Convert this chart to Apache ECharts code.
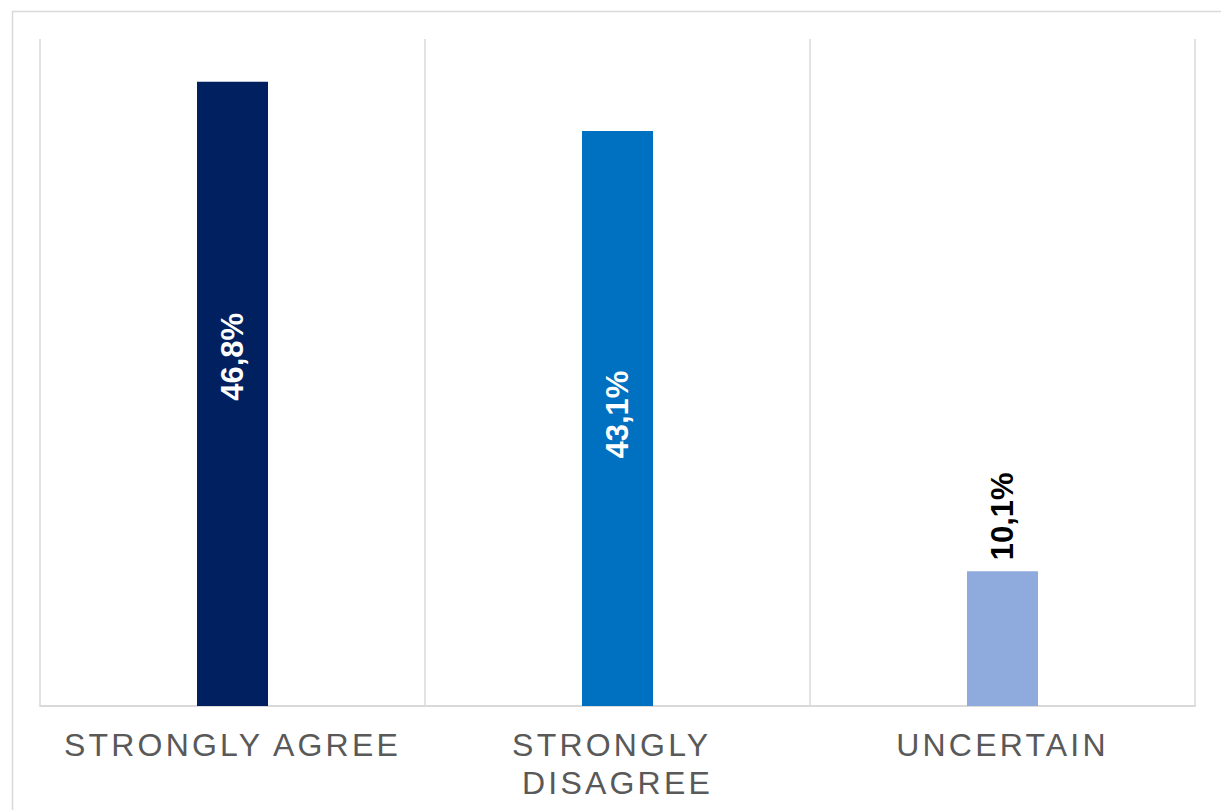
<!DOCTYPE html>
<html>
<head>
<meta charset="utf-8">
<script src="https://cdn.jsdelivr.net/npm/echarts@6/dist/echarts.min.js"></script>
<style>
  html, body { margin: 0; padding: 0; background: #ffffff; }
  #chart { width: 1221px; height: 810px; }
  /* spaced-out category captions; bold value labels keep normal spacing */
  #chart text { letter-spacing: 3.2px; }
  #chart text[style*="bold"] { letter-spacing: 0; }
</style>
</head>
<body>
<div id="chart"></div>
<script>
// Survey answer shares (percent)
const categories = ['STRONGLY AGREE', 'STRONGLY DISAGREE', 'UNCERTAIN'];
const shares = [46.8, 43.1, 10.1];
const barColors = ['#002060', '#0070C0', '#8FAADC'];

const fmt = v => v.toFixed(1).replace('.', ',') + '%';

const valueFont = {
  fontFamily: 'Liberation Sans, Arial, sans-serif',
  fontWeight: 'bold',
  fontSize: 31,
  formatter: p => fmt(p.value)
};

const barData = shares.map((v, i) => {
  const item = { value: v, itemStyle: { color: barColors[i] } };
  if (i < 2) {
    // offset is in the rotated text frame: +x moves the label up the bar
    item.label = Object.assign({
      show: true, position: 'inside', rotate: 90,
      align: 'center', verticalAlign: 'middle',
      color: '#ffffff', offset: i === 0 ? [37, 0] : [4, 0]
    }, valueFont);
  } else {
    item.label = Object.assign({
      show: true, position: 'top', rotate: 90, distance: 11,
      align: 'left', verticalAlign: 'middle', color: '#000000'
    }, valueFont);
  }
  return item;
});

const chart = echarts.init(document.getElementById('chart'), null, { renderer: 'svg' });
chart.setOption({
  animation: false,
  backgroundColor: '#ffffff',
  graphic: [{
    type: 'rect', left: 10, top: 9, silent: true,
    shape: { width: 1400, height: 1000 },
    style: { fill: 'none', stroke: '#d9d9d9', lineWidth: 1.5 }
  }],
  grid: { left: 40, right: 26, top: 39, bottom: 104, containLabel: false },
  xAxis: {
    type: 'category',
    data: categories,
    boundaryGap: true,
    axisLine: { show: true, lineStyle: { color: '#d9d9d9', width: 2 } },
    axisTick: { show: false },
    splitLine: { show: true, interval: 0, lineStyle: { color: '#d9d9d9', width: 1.5 } },
    axisLabel: {
      interval: 0, margin: 20,
      color: '#595959',
      fontFamily: 'Liberation Sans, Arial, sans-serif',
      fontSize: 32, lineHeight: 38,
      width: 340, overflow: 'break'
    }
  },
  yAxis: {
    type: 'value', min: 0, max: 50,
    show: false, splitLine: { show: false }
  },
  series: [{
    type: 'bar',
    data: barData,
    barWidth: 71
  }]
});
</script>
</body>
</html>
